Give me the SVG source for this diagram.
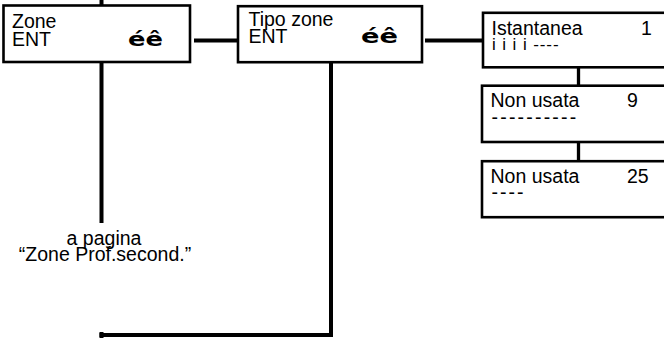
<svg xmlns="http://www.w3.org/2000/svg" width="664" height="338" viewBox="0 0 664 338">
<style>
.box{fill:#fff;stroke:#000;stroke-width:2.6}
.ln{stroke:#000;stroke-width:4;fill:none}
.ln2{stroke:#000;stroke-width:3.3;fill:none}
text{font-family:"Liberation Sans",Arial,sans-serif;font-size:19.5px;fill:#000}
.ar{font-family:"DejaVu Sans","Liberation Sans",sans-serif;font-weight:bold;font-size:19px}
.sm{font-size:17px}
</style>
<rect width="664" height="338" fill="#fff"/>
<g id="connectors">
<line class="ln" x1="101.5" y1="0" x2="101.5" y2="6"/>
<line class="ln" x1="101.5" y1="62" x2="101.5" y2="223"/>
<line class="ln" x1="194" y1="40.5" x2="238" y2="40.5"/>
<line class="ln" x1="425" y1="40.5" x2="482" y2="40.5"/>
<polyline class="ln" points="331,62 331,335 99.5,335"/>
<line class="ln" x1="101.5" y1="332" x2="101.5" y2="338"/>
<line class="ln2" x1="578.5" y1="67" x2="578.5" y2="86"/>
<line class="ln2" x1="578.5" y1="142" x2="578.5" y2="161"/>
</g>
<g id="zone">
<rect class="box" x="3.5" y="5.5" width="186.5" height="56.5"/>
<text x="12" y="27.5">Zone</text>
<text x="12" y="46">ENT</text>
<text class="ar" x="128" y="46" textLength="35" lengthAdjust="spacingAndGlyphs">éê</text>
</g>
<g id="tipo-zone">
<rect class="box" x="238" y="6.2" width="184" height="56"/>
<text x="248.5" y="26">Tipo zone</text>
<text x="248.5" y="42.5">ENT</text>
<text class="ar" x="361" y="42.5" textLength="37" lengthAdjust="spacingAndGlyphs">éê</text>
</g>
<g id="istantanea">
<rect class="box" x="483" y="12.8" width="190" height="54.5"/>
<text x="491.5" y="34.5">Istantanea</text>
<text x="641" y="34.5">1</text>
<text class="sm" x="492" y="50" letter-spacing="0.9">i i i i ----</text>
</g>
<g id="non-usata-9">
<rect class="box" x="482" y="85.7" width="190" height="56.3"/>
<text x="490.5" y="106.5">Non usata</text>
<text x="627" y="106.5">9</text>
<text x="491.5" y="123.5" letter-spacing="2.2">----------</text>
</g>
<g id="non-usata-25">
<rect class="box" x="482" y="161.2" width="190" height="56"/>
<text x="490.5" y="183">Non usata</text>
<text x="627" y="183">25</text>
<text x="491.5" y="198.5" letter-spacing="2">----</text>
</g>
<g id="label">
<text x="104" y="244.5" text-anchor="middle">a pagina</text>
<text x="105" y="260.5" text-anchor="middle">“Zone Prof.second.”</text>
</g>
</svg>
